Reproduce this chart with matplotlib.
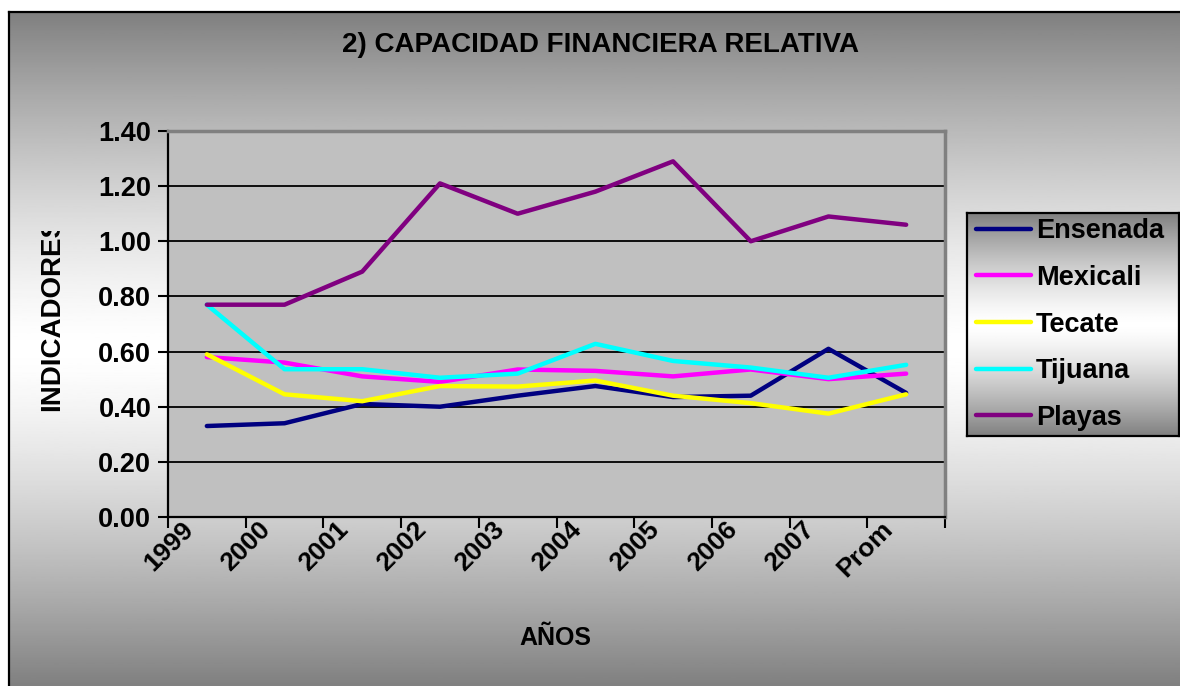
import numpy as np
import matplotlib
matplotlib.use("Agg")
import matplotlib.pyplot as plt
from matplotlib.transforms import ScaledTranslation, Bbox
from matplotlib.lines import Line2D

plt.rcParams['font.family'] = ['Liberation Sans', 'DejaVu Sans']
plt.rcParams['font.weight'] = 'bold'

# datos
anios = ["1999", "2000", "2001", "2002", "2003", "2004", "2005", "2006", "2007", "Prom"]
ensenada = [0.33, 0.34, 0.41, 0.40, 0.44, 0.475, 0.435, 0.44, 0.61, 0.45]
mexicali = [0.58, 0.56, 0.51, 0.49, 0.535, 0.53, 0.51, 0.535, 0.50, 0.52]
tecate = [0.59, 0.445, 0.42, 0.475, 0.473, 0.495, 0.44, 0.413, 0.375, 0.445]
tijuana = [0.77, 0.536, 0.536, 0.505, 0.52, 0.628, 0.566, 0.542, 0.505, 0.552]
playas = [0.77, 0.77, 0.89, 1.21, 1.10, 1.18, 1.29, 1.00, 1.09, 1.06]

series = [("Ensenada", ensenada, "#000080"),
          ("Mexicali", mexicali, "#FF00FF"),
          ("Tecate", tecate, "#FFFF00"),
          ("Tijuana", tijuana, "#00FFFF"),
          ("Playas", playas, "#800080")]

W, H = 1180, 686


def gradiente(n=400, p=1.4):
    # oscuro arriba y abajo, blanco al centro (estilo Excel)
    d = np.abs(np.linspace(-1, 1, n))
    v = 1 - (127 / 255) * d ** p
    return v.reshape(-1, 1)


fig = plt.figure(figsize=(W / 100, H / 100), dpi=100, facecolor='white')

# fondo del grafico
bg = fig.add_axes([9 / W, 0, 1 - 9 / W, 1 - 12 / H], zorder=-10)
bg.imshow(gradiente(), aspect='auto', cmap='gray', vmin=0, vmax=1, extent=[0, 1, 0, 1])
bg.axis('off')
fig.add_artist(Line2D([9 / W, 9 / W], [0, 1 - 12 / H], color='black', lw=1.6))
fig.add_artist(Line2D([9 / W, 1], [1 - 12 / H, 1 - 12 / H], color='black', lw=1.6))

ax = fig.add_axes([168 / W, 1 - 517 / H, (945 - 168) / W, (517 - 131) / H])
ax.set_facecolor('#C0C0C0')

x = np.arange(len(anios))
for y0 in np.arange(0.2, 1.3, 0.2):
    ax.axhline(y0, color='black', lw=1.3, zorder=1)

lineas = []
for nombre, vals, col in series:
    l, = ax.plot(x, vals, color=col, lw=3.2, zorder=3, solid_capstyle='round', label=nombre)
    lineas.append(l)

ax.set_xlim(-0.5, len(anios) - 0.5)
ax.set_ylim(0, 1.4)
ax.set_yticks(np.arange(0, 1.41, 0.2))
ax.set_yticklabels([f"{v:.2f}" for v in np.arange(0, 1.41, 0.2)], fontsize=19.5, fontweight='bold')
ax.tick_params(axis='y', length=7, width=1.5, pad=5, direction='out')

ax.set_xticks(np.arange(-0.5, len(anios)), [])
ax.set_xticks(x, anios, minor=True, rotation=45, ha='right', rotation_mode='anchor',
              fontsize=19, fontweight='bold')
ax.tick_params(axis='x', which='major', length=8, width=1.5, direction='out')
ax.tick_params(axis='x', which='minor', length=0, pad=0)
off = ScaledTranslation(-26 / 100, 0, fig.dpi_scale_trans)
for lab in ax.get_xticklabels(minor=True):
    lab.set_transform(lab.get_transform() + off)

for s in ['top', 'right']:
    ax.spines[s].set_color('#808080')
    ax.spines[s].set_linewidth(2.5)
for s in ['left', 'bottom']:
    ax.spines[s].set_color('black')
    ax.spines[s].set_linewidth(1.6)

fig.text(600 / W, 1 - 45 / H, "2) CAPACIDAD FINANCIERA RELATIVA", ha='center', va='center',
         fontsize=20, fontweight='bold')
fig.text(555 / W, 1 - 638 / H, "AÑOS", ha='center', va='center', fontsize=18, fontweight='bold')
yl = fig.text(52 / W, 1 - 411 / H, "INDICADORES", rotation=90, ha='center', va='bottom',
              fontsize=20, fontweight='bold')
yl.set_clip_box(Bbox.from_extents(0, 0, W, H - 231))
yl.set_clip_on(True)

# leyenda
lax = fig.add_axes([967 / W, 1 - 436 / H, (1179 - 967) / W, (436 - 213) / H])
lax.imshow(gradiente(), aspect='auto', cmap='gray', vmin=0, vmax=1, extent=[0, 1, 0, 1])
lax.set_xticks([])
lax.set_yticks([])
for s in lax.spines.values():
    s.set_color('black')
    s.set_linewidth(1.6)
lax.legend(lineas, [s[0] for s in series], loc='center left', bbox_to_anchor=(0, 0.5),
           frameon=False, borderaxespad=0, borderpad=0.35, handlelength=2.0,
           handletextpad=0.2, labelspacing=0.76,
           prop={'size': 19.5, 'weight': 'bold'})

fig.savefig("out.png", dpi=100)
